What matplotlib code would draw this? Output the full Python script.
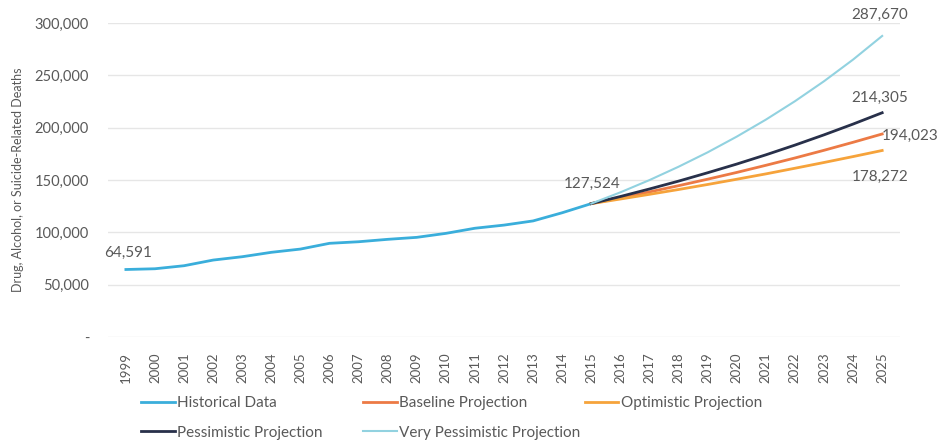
import matplotlib.pyplot as plt
from matplotlib.ticker import FuncFormatter

plt.rcParams['font.family'] = ['Lato', 'DejaVu Sans']

# --- data ---
hist_years = list(range(1999, 2016))
hist_values = [64591, 65300, 68200, 73600, 76800, 81000, 84100, 89600, 91100,
               93400, 95300, 99100, 104000, 107000, 111000, 118800, 127524]

proj_years = list(range(2015, 2026))
baseline = [127524, 133000, 138700, 144650, 150850, 157300, 164100, 171100,
            178450, 186100, 194023]
optimistic = [127524, 131900, 136400, 141000, 145800, 150800, 155900, 161300,
              166800, 172450, 178272]
pessimistic = [127524, 134300, 141500, 149000, 157000, 165300, 174100, 183400,
               193200, 203500, 214305]
very_pessimistic = [127524, 138300, 150000, 162750, 176500, 191500, 207700,
                    225300, 244400, 265100, 287670]

year_labels = [str(y) for y in range(1999, 2026)]

TXT = '#595959'
C_HIST = '#3aaedb'
C_BASE = '#ec7a45'
C_OPT = '#f6a33b'
C_PESS = '#28304a'
C_VPESS = '#92d2e0'

fig = plt.figure(figsize=(9.43, 4.43), dpi=100)
ax = fig.add_axes([0.115, 0.239, 0.839, 0.709])

ax.plot(hist_years, hist_values, color=C_HIST, lw=2.0, label='Historical Data')
ax.plot(proj_years, baseline, color=C_BASE, lw=2.0, label='Baseline Projection')
ax.plot(proj_years, optimistic, color=C_OPT, lw=2.0, label='Optimistic Projection')
ax.plot(proj_years, pessimistic, color=C_PESS, lw=2.0, label='Pessimistic Projection')
ax.plot(proj_years, very_pessimistic, color=C_VPESS, lw=1.5, label='Very Pessimistic Projection')

ax.set_ylim(0, 300000)
ax.set_xlim(1998.4, 2025.6)
ax.set_yticks(range(0, 300001, 50000))
ax.yaxis.set_major_formatter(FuncFormatter(lambda v, p: '-' if v == 0 else f'{int(v):,}'))
ax.set_xticks(range(1999, 2026))
ax.set_xticklabels(year_labels, rotation=90)
ax.tick_params(axis='both', length=0, colors=TXT)
ax.tick_params(axis='y', labelsize=10.5, pad=14)
ax.tick_params(axis='x', labelsize=9.5, pad=11)
ax.grid(axis='y', color='#e6e6e6', lw=1)
ax.set_axisbelow(True)
for s in ax.spines.values():
    s.set_visible(False)
ax.set_ylabel('Drug, Alcohol, or Suicide-Related Deaths', fontsize=9, color=TXT, labelpad=8)

# data labels
lab = dict(fontsize=11, color=TXT)
ax.annotate(f'{hist_values[0]:,}', (hist_years[0], hist_values[0]), xytext=(-16, 9),
            textcoords='offset points', **lab)
ax.annotate(f'{hist_values[-1]:,}', (hist_years[-1], hist_values[-1]), xytext=(-20, 11),
            textcoords='offset points', **lab)
ax.annotate(f'{very_pessimistic[-1]:,}', (proj_years[-1], very_pessimistic[-1]), xytext=(-22, 12),
            textcoords='offset points', **lab)
ax.annotate(f'{pessimistic[-1]:,}', (proj_years[-1], pessimistic[-1]), xytext=(-22, 8),
            textcoords='offset points', **lab)
ax.annotate(f'{baseline[-1]:,}', (proj_years[-1], baseline[-1]), xytext=(0, -4),
            textcoords='offset points', **lab)
ax.annotate(f'{optimistic[-1]:,}', (proj_years[-1], optimistic[-1]), xytext=(-22, -22),
            textcoords='offset points', **lab)

# legend: Excel-style equal columns, one legend per column
handles, labels = ax.get_legend_handles_labels()
columns = [([0, 3], 0.150), ([1, 4], 0.385), ([2], 0.620)]
for idx, x0 in columns:
    leg = fig.legend([handles[i] for i in idx], [labels[i] for i in idx],
                     loc='upper left', bbox_to_anchor=(x0, 0.105), frameon=False,
                     fontsize=11, labelcolor=TXT, handlelength=2.2, handletextpad=0.15,
                     labelspacing=1.0, borderaxespad=0, borderpad=0)

fig.savefig('out.png', dpi=100, facecolor='white')
